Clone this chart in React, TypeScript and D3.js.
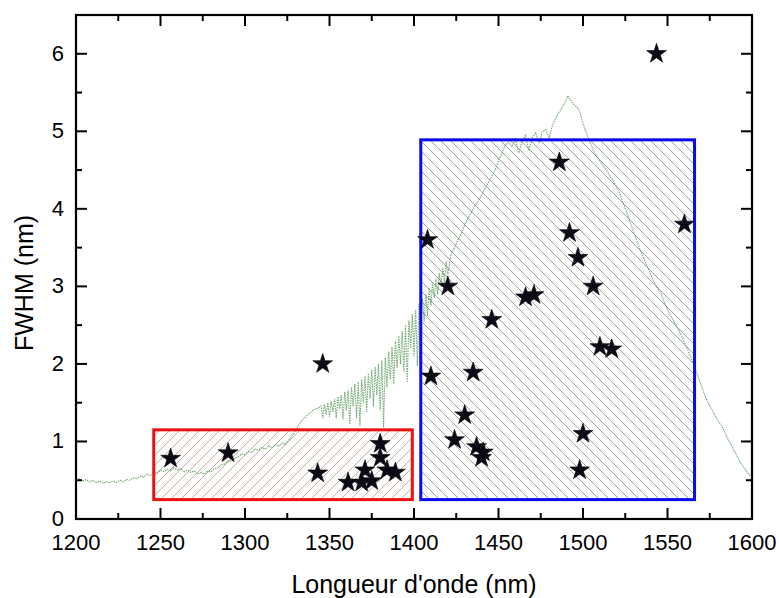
import React from "react";
import * as d3 from "d3";

// ---- Data ----
const xTicks = [1200, 1250, 1300, 1350, 1400, 1450, 1500, 1550, 1600];
const yTicks = [0, 1, 2, 3, 4, 5, 6];

// Spectrum (green trace): wavelength (nm) and FWHM-scaled intensity
const specX = [
  1200, 1202, 1204, 1206, 1208, 1210, 1212, 1214, 1216, 1218, 1220, 1222, 1224, 1226, 1228, 1230,
  1232, 1234, 1236, 1238, 1240, 1242, 1244, 1246, 1248, 1250, 1252, 1254, 1256, 1258, 1260, 1262,
  1264, 1266, 1268, 1270, 1272, 1274, 1276, 1278, 1280, 1282, 1284, 1286, 1288, 1290, 1292, 1294,
  1296, 1298, 1300, 1302, 1304, 1306, 1308, 1310, 1312, 1314, 1316, 1318, 1320, 1322, 1324, 1326,
  1328, 1330, 1332, 1334, 1336, 1338, 1340, 1342, 1344,
  1345, 1346, 1347, 1348, 1349, 1350, 1351, 1352, 1353, 1354, 1355, 1356, 1357, 1358, 1359, 1360,
  1361, 1362, 1363, 1364, 1365, 1366, 1367, 1368, 1369, 1370, 1371, 1372, 1373, 1374, 1375, 1376,
  1377, 1378, 1379, 1380, 1381, 1382, 1383, 1384, 1385, 1386, 1387, 1388, 1389, 1390, 1391, 1392,
  1393, 1394, 1395, 1396, 1397, 1398, 1399, 1400, 1401, 1402, 1403, 1404, 1405, 1406, 1407, 1408,
  1409, 1410, 1411, 1412, 1413, 1414, 1415, 1416, 1417, 1418, 1419, 1420,
  1422, 1424, 1426, 1428, 1430, 1432, 1434, 1436, 1438, 1440, 1442, 1444, 1446, 1448, 1450, 1452,
  1454, 1456, 1458, 1460, 1462, 1464, 1466, 1468, 1470, 1472, 1474, 1476, 1478, 1480, 1482, 1484,
  1486, 1488, 1490, 1491, 1492, 1494, 1496, 1498, 1500, 1502, 1504, 1506, 1508, 1510, 1512, 1514,
  1516, 1518, 1520, 1522, 1524, 1526, 1528, 1530, 1532, 1534, 1536, 1538, 1540, 1542, 1544, 1546,
  1548, 1550, 1552, 1554, 1556, 1558, 1560, 1562, 1564, 1566, 1568, 1570, 1572, 1574, 1576, 1578,
  1580, 1582, 1584, 1586, 1588, 1590, 1592, 1594, 1596, 1598, 1600,
];
const specY = [
  0.50, 0.52, 0.49, 0.51, 0.48, 0.50, 0.47, 0.49, 0.46, 0.48, 0.47, 0.49, 0.47, 0.50, 0.48, 0.51,
  0.50, 0.53, 0.52, 0.55, 0.54, 0.58, 0.56, 0.60, 0.59, 0.63, 0.61, 0.64, 0.62, 0.66, 0.63, 0.65,
  0.61, 0.63, 0.60, 0.62, 0.58, 0.60, 0.58, 0.62, 0.61, 0.65, 0.66, 0.70, 0.71, 0.75, 0.74, 0.79,
  0.80, 0.84, 0.83, 0.87, 0.86, 0.90, 0.89, 0.92, 0.90, 0.94, 0.92, 0.96, 0.94, 0.98, 0.96, 1.02,
  1.08, 1.15, 1.22, 1.28, 1.32, 1.36, 1.40, 1.42, 1.44,
  1.46, 1.30, 1.48, 1.35, 1.50, 1.32, 1.52, 1.38, 1.55, 1.30, 1.58, 1.42, 1.60, 1.28, 1.64, 1.40,
  1.66, 1.22, 1.70, 1.45, 1.74, 1.30, 1.77, 1.20, 1.80, 1.50, 1.84, 1.38, 1.88, 1.55, 1.92, 1.45,
  1.96, 1.60, 2.00, 1.40, 2.04, 1.18, 2.08, 1.70, 2.16, 1.80, 2.22, 1.74, 2.30, 1.95, 2.36, 2.00,
  2.42, 1.90, 2.50, 1.76, 2.56, 2.20, 2.64, 2.10, 2.70, 1.97, 2.78, 2.45, 2.84, 2.55, 2.90, 2.62,
  2.98, 2.75, 3.05, 2.85, 3.10, 2.90, 3.17, 3.00, 3.24, 3.05, 3.32, 3.15,
  3.42, 3.50, 3.60, 3.68, 3.80, 3.88, 3.96, 4.04, 4.10, 4.18, 4.26, 4.34, 4.42, 4.50, 4.62, 4.72,
  4.82, 4.86, 4.80, 4.90, 4.72, 4.88, 4.95, 4.75, 4.92, 4.98, 4.85, 5.00, 5.02, 4.92, 5.08, 5.18,
  5.25, 5.32, 5.40, 5.46, 5.42, 5.36, 5.32, 5.26, 5.10, 4.98, 4.86, 4.76, 4.68, 4.62, 4.55, 4.50,
  4.42, 4.36, 4.28, 4.18, 4.06, 3.94, 3.82, 3.70, 3.58, 3.46, 3.36, 3.26, 3.16, 3.06, 2.98, 2.92,
  2.80, 2.70, 2.62, 2.54, 2.46, 2.38, 2.28, 2.18, 2.08, 1.96, 1.84, 1.72, 1.60, 1.50, 1.42, 1.34,
  1.26, 1.20, 1.12, 1.02, 0.94, 0.86, 0.78, 0.70, 0.64, 0.58, 0.54,
];

// Star points: wavelength (nm), FWHM (nm)
const starX = [
  1256, 1290, 1343, 1346, 1361, 1369, 1371, 1375, 1380, 1380, 1384, 1389,
  1408, 1410, 1420, 1424, 1430, 1435, 1437, 1440, 1441, 1446, 1466, 1471,
  1486, 1492, 1497, 1498, 1500, 1506, 1510, 1517, 1543.5, 1560,
];
const starY = [
  0.78, 0.85, 0.59, 2.0, 0.47, 0.47, 0.63, 0.49, 0.97, 0.79, 0.63, 0.6,
  3.6, 1.84, 3.0, 1.02, 1.34, 1.89, 0.93, 0.79, 0.86, 2.57, 2.86, 2.89,
  4.6, 3.69, 3.37, 0.63, 1.1, 3.0, 2.22, 2.19, 6.0, 3.8,
];

// Highlight regions [x0, x1, y0, y1]
const redBox = [1246, 1399, 0.25, 1.15];
const blueBox = [1404, 1566, 0.25, 4.89];

const W = 779;
const H = 598;
const left = 76, right = 752, top = 15, bottom = 519;
const FONT = "'Liberation Sans', Arial, Helvetica, sans-serif";

export default function App() {
  const x = d3.scaleLinear().domain([1200, 1600]).range([left, right]);
  const y = d3.scaleLinear().domain([0, 6.5]).range([bottom, top]);

  const line = d3
    .line<number>()
    .x((_, i) => x(specX[i]))
    .y((d) => y(d));
  const specPath = line(specY) || "";

  const star = d3.symbol().type(d3.symbolStar).size(122)() || "";

  const xMinor = d3.range(1225, 1600, 50);
  const yMinor = d3.range(0.5, 6.5, 1);
  const major = 11, minor = 6;

  const box = (b: number[], fillId: string, stroke: string, withFill: boolean) => {
    const bx = x(b[0]), bw = x(b[1]) - x(b[0]);
    const by = y(b[3]), bh = y(b[2]) - y(b[3]);
    return withFill ? (
      <g>
        <rect x={bx} y={by} width={bw} height={bh} fill="#fdfdfb" />
        <rect x={bx} y={by} width={bw} height={bh} fill={`url(#${fillId})`} />
      </g>
    ) : (
      <rect x={bx} y={by} width={bw} height={bh} fill="none" stroke={stroke} strokeWidth={3} />
    );
  };

  return (
    <svg
      width={W}
      height={H}
      style={{ position: "absolute", left: 0, top: 0, background: "#fff" }}
      fontFamily={FONT}
    >
      <defs>
        <pattern id="hatchRed" patternUnits="userSpaceOnUse" width={10} height={10}>
          <path d="M0,10 L10,0 M-1,1 L1,-1 M9,11 L11,9" stroke="#b08c8c" strokeWidth={0.7} />
        </pattern>
        <pattern id="hatchBlue" patternUnits="userSpaceOnUse" width={10} height={10}>
          <path d="M0,0 L10,10 M-1,9 L1,11 M9,-1 L11,1" stroke="#76768e" strokeWidth={0.7} />
        </pattern>
      </defs>

      {box(redBox, "hatchRed", "#e00000", true)}
      {box(blueBox, "hatchBlue", "#0000ee", true)}

      <path
        d={specPath}
        fill="none"
        stroke="#4f944f"
        strokeWidth={1.1}
        strokeOpacity={0.8}
        strokeDasharray="1.5,1"
      />

      {box(redBox, "hatchRed", "#ee1111", false)}
      {box(blueBox, "hatchBlue", "#0a0aee", false)}

      {starX.map((sx, i) => (
        <path
          key={i}
          d={star}
          transform={`translate(${x(sx)},${y(starY[i])})`}
          fill="#0b0b18"
          stroke="#000"
          strokeWidth={0.6}
        />
      ))}

      {/* Frame */}
      <rect x={left} y={top} width={right - left} height={bottom - top} fill="none" stroke="#000" strokeWidth={2.2} />

      {/* X ticks */}
      {xTicks.map((t) => (
        <g key={"xt" + t}>
          <line x1={x(t)} x2={x(t)} y1={bottom} y2={bottom - major} stroke="#000" strokeWidth={2} />
          <line x1={x(t)} x2={x(t)} y1={top} y2={top + major} stroke="#000" strokeWidth={2} />
          <text x={x(t)} y={550} textAnchor="middle" fontSize={22} fill="#000">
            {t}
          </text>
        </g>
      ))}
      {xMinor.map((t) => (
        <g key={"xm" + t}>
          <line x1={x(t)} x2={x(t)} y1={bottom} y2={bottom - minor} stroke="#000" strokeWidth={2} />
          <line x1={x(t)} x2={x(t)} y1={top} y2={top + minor} stroke="#000" strokeWidth={2} />
        </g>
      ))}

      {/* Y ticks */}
      {yTicks.map((t) => (
        <g key={"yt" + t}>
          <line x1={left} x2={left + major} y1={y(t)} y2={y(t)} stroke="#000" strokeWidth={2} />
          <line x1={right} x2={right - major} y1={y(t)} y2={y(t)} stroke="#000" strokeWidth={2} />
          <text x={64} y={y(t) + 7} textAnchor="end" fontSize={22} fill="#000">
            {t}
          </text>
        </g>
      ))}
      {yMinor.map((t) => (
        <g key={"ym" + t}>
          <line x1={left} x2={left + minor} y1={y(t)} y2={y(t)} stroke="#000" strokeWidth={2} />
          <line x1={right} x2={right - minor} y1={y(t)} y2={y(t)} stroke="#000" strokeWidth={2} />
        </g>
      ))}

      <text x={(left + right) / 2} y={593} textAnchor="middle" fontSize={25} fill="#000">
        Longueur d'onde (nm)
      </text>
      <text
        transform={`translate(33,283) rotate(-90)`}
        textAnchor="middle"
        fontSize={25}
        fill="#000"
      >
        FWHM (nm)
      </text>
    </svg>
  );
}
